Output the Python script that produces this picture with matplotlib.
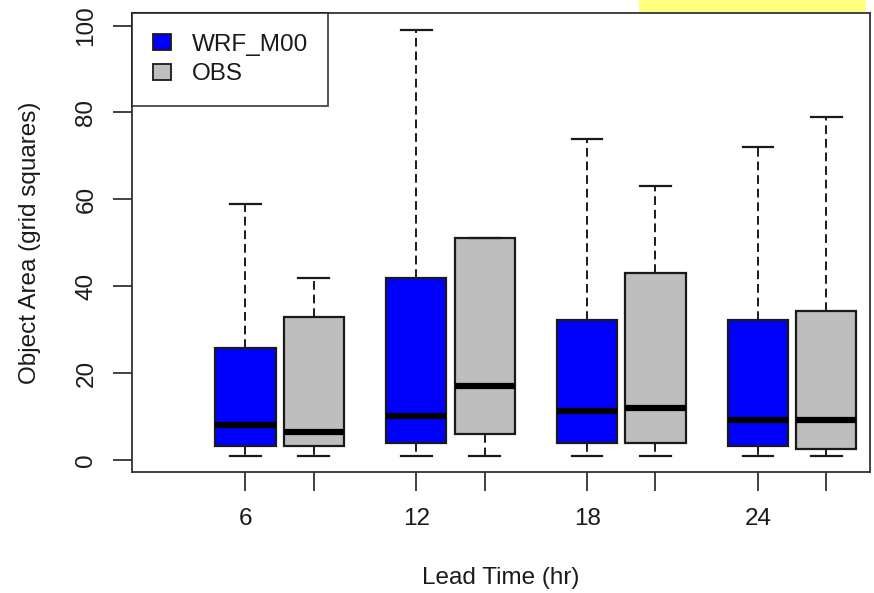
import matplotlib
matplotlib.use("Agg")
import matplotlib.pyplot as plt
from matplotlib.patches import Rectangle, Patch

# ---- data ----
lead_times = ["6", "12", "18", "24"]
series = ["WRF_M00", "OBS"]
colors = ["#0000FF", "#BEBEBE"]

# per lead time: [WRF, OBS]
whislo = [[1, 1], [1, 1], [1, 1], [1, 1]]
q1     = [[3.3, 3.3], [4.0, 6.1], [4.0, 4.0], [3.3, 2.6]]
med    = [[8.0, 6.5], [10.2, 17.1], [11.3, 12.0], [9.1, 9.1]]
q3     = [[25.7, 33.0], [42.0, 51.1], [32.2, 43.1], [32.2, 34.4]]
whishi = [[59, 42], [99, 51.1], [74, 63], [72, 79]]

positions = [[1, 2], [3.5, 4.5], [6, 7], [8.5, 9.5]]
ytick_vals = [0, 20, 40, 60, 80, 100]

plt.rcParams['font.family'] = ['Liberation Sans', 'DejaVu Sans']

fig = plt.figure(figsize=(8.74, 5.93), dpi=100)
ax = fig.add_axes([132/874, 1-472/593, (870-132)/874, (472-13)/593])

ink = "#1a1a1a"
for g in range(len(lead_times)):
    for s in range(len(series)):
        stats = [dict(whislo=whislo[g][s], q1=q1[g][s], med=med[g][s],
                      q3=q3[g][s], whishi=whishi[g][s], fliers=[])]
        ax.bxp(stats, positions=[positions[g][s]], widths=0.88,
               patch_artist=True, showfliers=False,
               boxprops=dict(facecolor=colors[s], edgecolor=ink, linewidth=1.6),
               medianprops=dict(color="black", linewidth=4.5, solid_capstyle='butt'),
               whiskerprops=dict(color=ink, linewidth=1.4, linestyle=(0, (4.5, 2.5))),
               capprops=dict(color=ink, linewidth=1.6), capwidths=0.45,
               manage_ticks=False)

ax.set_xlim(-0.66, 10.14)
ax.set_ylim(-2.76, 102.9)

allpos = [p for pair in positions for p in pair]
labels = []
for lt in lead_times:
    labels += [lt, ""]
ax.set_xticks(allpos)
ax.set_xticklabels(labels)
ax.set_yticks(ytick_vals)
ax.set_yticklabels([str(v) for v in ytick_vals], rotation=90, va='center')

ax.tick_params(axis='both', length=14, width=1.3, color="#333333",
               labelsize=17.5, labelcolor=ink)
ax.tick_params(axis='x', pad=12)
ax.tick_params(axis='y', pad=11)
for sp in ax.spines.values():
    sp.set_color("#333333")
    sp.set_linewidth(1.3)

ax.set_xlabel("Lead Time (hr)", fontsize=17.5, color=ink)
ax.set_ylabel("Object Area (grid squares)", fontsize=17.5, color=ink)
ax.xaxis.set_label_coords((501-132)/738, -(578-472)/459)
ax.xaxis.label.set_va('center')
ax.yaxis.set_label_coords(-(132-30)/738, 0.5)
ax.yaxis.label.set_va('center')

handles = [Patch(facecolor=colors[i], edgecolor=ink, linewidth=1.3, label=series[i])
           for i in range(2)]
leg = ax.legend(handles=handles, loc='upper left', fontsize=17.5,
                frameon=True, fancybox=False, borderaxespad=0,
                handlelength=0.75, handleheight=0.62, handletextpad=0.85,
                borderpad=0.85, labelspacing=0.32)
leg.get_frame().set_edgecolor(ink)
leg.get_frame().set_linewidth(1.3)
for t in leg.get_texts():
    t.set_color(ink)

# yellow strip at the top
fig.patches.append(Rectangle((639/874, 1-12/593), (866-639)/874, 12/593,
                             transform=fig.transFigure, facecolor="#FFFF80",
                             edgecolor="none", zorder=0))

fig.savefig("out.png", dpi=100)
